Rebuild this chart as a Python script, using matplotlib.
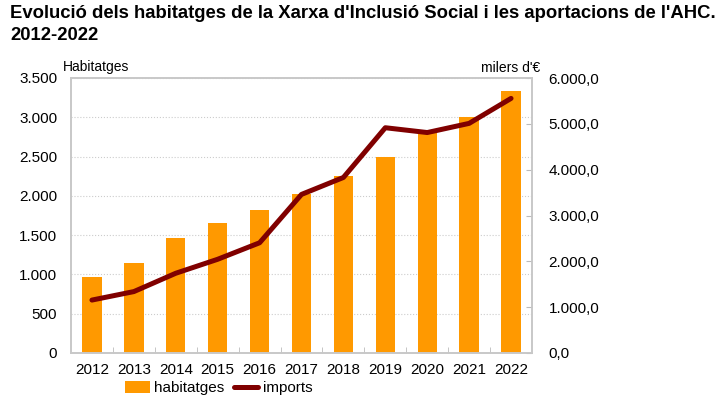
import matplotlib.pyplot as plt
from matplotlib.ticker import FuncFormatter, MultipleLocator

plt.rcParams['font.family'] = ['Liberation Sans', 'DejaVu Sans']

years = ['2012', '2013', '2014', '2015', '2016', '2017', '2018', '2019', '2020', '2021', '2022']
habitatges = [970, 1140, 1460, 1655, 1825, 2025, 2255, 2500, 2830, 3000, 3340]
imports = [1155, 1340, 1740, 2045, 2405, 3460, 3830, 4915, 4810, 5010, 5555]


def fmt_int(v, _):
    return f'{int(round(v)):,}'.replace(',', '.')


def fmt_dec(v, _):
    return f'{v:,.1f}'.replace(',', 'X').replace('.', ',').replace('X', '.')


fig = plt.figure(figsize=(7.26, 3.96), dpi=100)
ax = fig.add_axes([71 / 726, 1 - 353 / 396, (532 - 71) / 726, (353 - 78) / 396])
ax2 = ax.twinx()

x = range(len(years))
bars = ax.bar(x, habitatges, width=0.46, color='#FF9900', zorder=2, label='habitatges')
line, = ax2.plot(x, imports, color='#800000', lw=3.6, solid_capstyle='round', zorder=3, label='imports')

ax.set_xlim(-0.5, len(years) - 0.5)
ax.set_ylim(0, 3500)
ax2.set_ylim(0, 6000)
ax.yaxis.set_major_locator(MultipleLocator(500))
ax2.yaxis.set_major_locator(MultipleLocator(1000))
ax.yaxis.set_major_formatter(FuncFormatter(fmt_int))
ax2.yaxis.set_major_formatter(FuncFormatter(fmt_dec))
ax.grid(axis='y', color='#cccccc', linestyle=':', lw=0.8, zorder=0)
ax.set_axisbelow(True)

ax.set_xticks(list(x))
ax.set_xticklabels(years)
ax.set_xticks([i + 0.5 for i in range(len(years) - 1)], minor=True)
ax.tick_params(axis='x', which='major', length=0, labelsize=11, pad=7)
ax.tick_params(axis='x', which='minor', direction='in', length=4, color='#bbbbbb')
ax.tick_params(axis='y', length=0, labelsize=11, pad=10)
ax2.tick_params(axis='y', direction='in', length=4, color='#bbbbbb', labelsize=11, pad=12)

for a in (ax, ax2):
    for s in a.spines.values():
        s.set_color('#c8c8c8')
        s.set_linewidth(1.2)

fig.text(63 / 726, 1 - 67 / 396, 'Habitatges', fontsize=10, va='center', ha='left')
fig.text(540 / 726, 1 - 68 / 396, "milers d'€", fontsize=10, va='center', ha='right')
fig.text(10 / 726, 1 - 14 / 396, "Evolució dels habitatges de la Xarxa d'Inclusió Social i les aportacions de l'AHC.",
         fontsize=13.3, fontweight='bold', va='center', ha='left')
fig.text(10 / 726, 1 - 36 / 396, '2012-2022', fontsize=13.3, fontweight='bold', va='center', ha='left')

fig.legend(handles=[bars, line], loc='center left', bbox_to_anchor=(119 / 726, 1 - 388 / 396),
           ncol=2, frameon=False, fontsize=11, handlelength=1.6, handleheight=0.9,
           columnspacing=0.6, handletextpad=0.3, borderaxespad=0)

fig.savefig('out.png', dpi=100)
